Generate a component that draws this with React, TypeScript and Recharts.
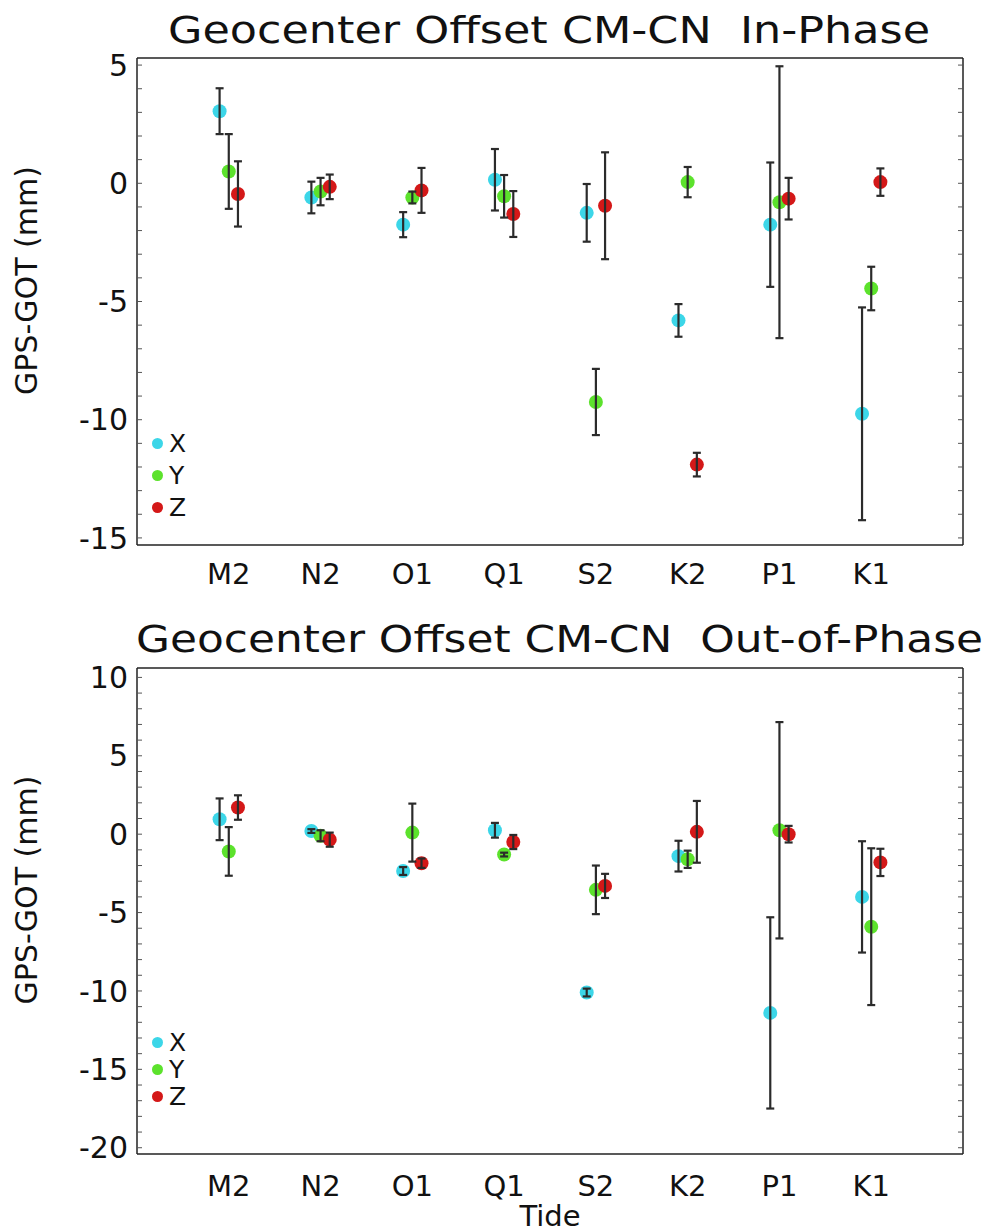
import React from "react";
import { ScatterChart, Scatter, XAxis, YAxis, ErrorBar, Legend } from "recharts";

const TIDES = ["M2", "N2", "O1", "Q1", "S2", "K2", "P1", "K1"];

// In-Phase, GPS-GOT (mm) and 1-sigma
const inPhaseX = [3.05, -0.6, -1.75, 0.15, -1.25, -5.8, -1.75, -9.75];
const inPhaseXErr = [0.97, 0.67, 0.53, 1.3, 1.22, 0.69, 2.63, 4.5];
const inPhaseY = [0.5, -0.35, -0.6, -0.55, -9.25, 0.05, -0.8, -4.45];
const inPhaseYErr = [1.58, 0.58, 0.25, 0.9, 1.4, 0.64, 5.75, 0.92];
const inPhaseZ = [-0.45, -0.15, -0.3, -1.3, -0.95, -11.9, -0.65, 0.05];
const inPhaseZErr = [1.38, 0.52, 0.95, 0.97, 2.26, 0.5, 0.88, 0.58];

// Out-of-Phase
const outPhaseX = [0.95, 0.2, -2.35, 0.25, -10.1, -1.4, -11.4, -4.0];
const outPhaseXErr = [1.33, 0.12, 0.25, 0.47, 0.25, 0.98, 6.1, 3.55];
const outPhaseY = [-1.1, -0.1, 0.1, -1.3, -3.55, -1.6, 0.25, -5.9];
const outPhaseYErr = [1.55, 0.35, 1.85, 0.12, 1.55, 0.55, 6.9, 5.0];
const outPhaseZ = [1.7, -0.35, -1.85, -0.5, -3.3, 0.15, 0.0, -1.8];
const outPhaseZErr = [0.78, 0.45, 0.3, 0.45, 0.77, 1.97, 0.53, 0.87];

const IN_TICKS = [5, 0, -5, -10, -15];
const OUT_TICKS = [10, 5, 0, -5, -10, -15, -20];
const X_TICKS = [1, 2, 3, 4, 5, 6, 7, 8];

const COLORS: Record<string, string> = { X: "#3cd6e8", Y: "#5ce22c", Z: "#d41818" };
const SHIFT: Record<string, number> = { X: -0.1, Y: 0, Z: 0.1 };
const FONT = "'DejaVu Sans', sans-serif";
const AXIS = "#222";
const INK = "#111";

const intRange = (lo: number, hi: number) =>
  Array.from({ length: hi - lo + 1 }, (_, i) => lo + i);

const toPoints = (vals: number[], errs: number[], shift: number) =>
  vals.map((v, i) => ({ tide: TIDES[i], x: i + 1 + shift, y: v, err: errs[i] }));

const dot = (color: string) => (props: any) => (
  <circle cx={props.cx} cy={props.cy} r={7} fill={color} />
);
const noDot = () => <g />;

const legendContent = (rowH: number) => (props: any) => (
  <div style={{ fontFamily: FONT }}>
    {(props.payload || [])
      .filter((entry: any) => entry.type !== "none")
      .map((entry: any) => (
        <div
          key={entry.value}
          style={{ display: "flex", alignItems: "center", height: rowH }}
        >
          <span
            style={{
              width: 11,
              height: 11,
              borderRadius: "50%",
              background: entry.color,
              marginRight: 6,
            }}
          />
          <span style={{ fontSize: 25, color: INK, lineHeight: 1 }}>{entry.value}</span>
        </div>
      ))}
  </div>
);

type Series = { name: string; vals: number[]; errs: number[] };

interface PanelProps {
  top: number;
  height: number;
  xAxisHeight: number;
  tickGap: number;
  domain: [number, number];
  ticks: number[];
  minor: number[];
  series: Series[];
  legendTop: number;
  legendRow: number;
  showTide: boolean;
}

const hiddenTick = { fill: "none", fontSize: 1 };

const Panel: React.FC<PanelProps> = ({
  top,
  height,
  xAxisHeight,
  tickGap,
  domain,
  ticks,
  minor,
  series,
  legendTop,
  legendRow,
  showTide,
}) => (
  <div style={{ position: "absolute", left: 0, top }}>
    <ScatterChart
      width={987}
      height={height}
      margin={{ top: 57, right: 23, bottom: 0, left: 0 }}
    >
      <XAxis
        type="number"
        dataKey="x"
        domain={[0, 9]}
        ticks={X_TICKS}
        interval={0}
        allowDataOverflow
        tickFormatter={(v: number) => TIDES[v - 1]}
        height={xAxisHeight}
        tickLine={false}
        tickSize={0}
        tickMargin={tickGap}
        axisLine={{ stroke: AXIS, strokeWidth: 1.5 }}
        tick={{ fill: INK, fontSize: 29, fontFamily: FONT }}
        label={
          showTide
            ? (p: any) => {
                const vb = p.viewBox || { x: 137, y: 544, width: 826 };
                return (
                  <text
                    x={vb.x + vb.width / 2}
                    y={vb.y + 72}
                    textAnchor="middle"
                    fontSize={29}
                    fontFamily={FONT}
                    fill={INK}
                  >
                    Tide
                  </text>
                );
              }
            : undefined
        }
      />
      <XAxis
        xAxisId="top"
        orientation="top"
        type="number"
        domain={[0, 9]}
        ticks={X_TICKS}
        allowDataOverflow
        height={1}
        tick={false}
        tickLine={false}
        axisLine={{ stroke: AXIS, strokeWidth: 1.5 }}
      />
      <YAxis
        type="number"
        dataKey="y"
        domain={domain}
        ticks={ticks}
        interval={0}
        allowDataOverflow
        width={137}
        tickLine={false}
        tickSize={0}
        tickMargin={9}
        axisLine={{ stroke: AXIS, strokeWidth: 1.5 }}
        tick={{ fill: INK, fontSize: 30, fontFamily: FONT }}
        label={(p: any) => {
          const vb = p.viewBox || { y: 58, height: 487 };
          const cy = vb.y + vb.height / 2 - 21;
          return (
            <text
              transform={`translate(37, ${cy}) rotate(-90)`}
              textAnchor="middle"
              fontSize={30}
              fontFamily={FONT}
              fill={INK}
            >
              GPS-GOT (mm)
            </text>
          );
        }}
      />
      <YAxis
        yAxisId="leftMinor"
        orientation="left"
        mirror
        width={1}
        type="number"
        domain={domain}
        ticks={minor}
        interval={0}
        allowDataOverflow
        axisLine={false}
        tick={hiddenTick}
        tickSize={5}
        tickMargin={0}
        tickLine={{ stroke: "#555", strokeWidth: 1 }}
      />
      <YAxis
        yAxisId="right"
        orientation="right"
        width={1}
        type="number"
        domain={domain}
        ticks={ticks}
        allowDataOverflow
        tick={false}
        tickLine={false}
        axisLine={{ stroke: AXIS, strokeWidth: 1.5 }}
      />
      <YAxis
        yAxisId="rightMinor"
        orientation="right"
        mirror
        width={1}
        type="number"
        domain={domain}
        ticks={minor}
        interval={0}
        allowDataOverflow
        axisLine={false}
        tick={hiddenTick}
        tickSize={5}
        tickMargin={0}
        tickLine={{ stroke: "#555", strokeWidth: 1 }}
      />
      <Legend
        layout="vertical"
        align="center"
        verticalAlign="middle"
        wrapperStyle={{ left: 152, top: legendTop, width: 40 }}
        content={legendContent(legendRow)}
      />
      {series.map((s) => (
        <Scatter
          key={s.name}
          name={s.name}
          data={toPoints(s.vals, s.errs, SHIFT[s.name])}
          fill={COLORS[s.name]}
          shape={dot(COLORS[s.name])}
          isAnimationActive={false}
        />
      ))}
      {series.map((s) => (
        <Scatter
          key={`${s.name}-err`}
          name={`${s.name} error`}
          legendType="none"
          data={toPoints(s.vals, s.errs, SHIFT[s.name])}
          fill="none"
          shape={noDot}
          isAnimationActive={false}
          zIndex={900}
        >
          <ErrorBar
            dataKey="err"
            direction="y"
            width={4}
            stroke="#2b2b2b"
            strokeWidth={2.2}
            zIndex={1000}
          />
        </Scatter>
      ))}
    </ScatterChart>
  </div>
);

const Title: React.FC<{ top: number; x: number; baseline: number; width: number; text: string }> = ({
  top,
  x,
  baseline,
  width,
  text,
}) => (
  <svg
    width={987}
    height={66}
    style={{ position: "absolute", left: 0, top }}
  >
    <text
      x={x}
      y={baseline}
      fontSize={38}
      fontFamily={FONT}
      fill={INK}
      textLength={width}
      lengthAdjust="spacingAndGlyphs"
      style={{ whiteSpace: "pre" }}
    >
      {text}
    </text>
  </svg>
);

export default function App() {
  return (
    <div
      style={{
        position: "absolute",
        left: 0,
        top: 0,
        width: 987,
        height: 1232,
        background: "#fff",
        fontFamily: FONT,
        overflow: "hidden",
      }}
    >
      <Panel
        top={0}
        height={605}
        xAxisHeight={60}
        tickGap={18}
        domain={[-15.3, 5.3]}
        ticks={IN_TICKS}
        minor={intRange(-15, 5)}
        series={[
          { name: "X", vals: inPhaseX, errs: inPhaseXErr },
          { name: "Y", vals: inPhaseY, errs: inPhaseYErr },
          { name: "Z", vals: inPhaseZ, errs: inPhaseZErr },
        ]}
        legendTop={427}
        legendRow={32}
        showTide={false}
      />
      <Panel
        top={610}
        height={622}
        xAxisHeight={78}
        tickGap={21}
        domain={[-20.4, 10.6]}
        ticks={OUT_TICKS}
        minor={intRange(-20, 10)}
        series={[
          { name: "X", vals: outPhaseX, errs: outPhaseXErr },
          { name: "Y", vals: outPhaseY, errs: outPhaseYErr },
          { name: "Z", vals: outPhaseZ, errs: outPhaseZErr },
        ]}
        legendTop={419}
        legendRow={27}
        showTide={true}
      />
      <Title top={0} x={168} baseline={43} width={762} text="Geocenter Offset CM-CN  In-Phase" />
      <Title
        top={600}
        x={136}
        baseline={52}
        width={847}
        text="Geocenter Offset CM-CN  Out-of-Phase"
      />
    </div>
  );
}
